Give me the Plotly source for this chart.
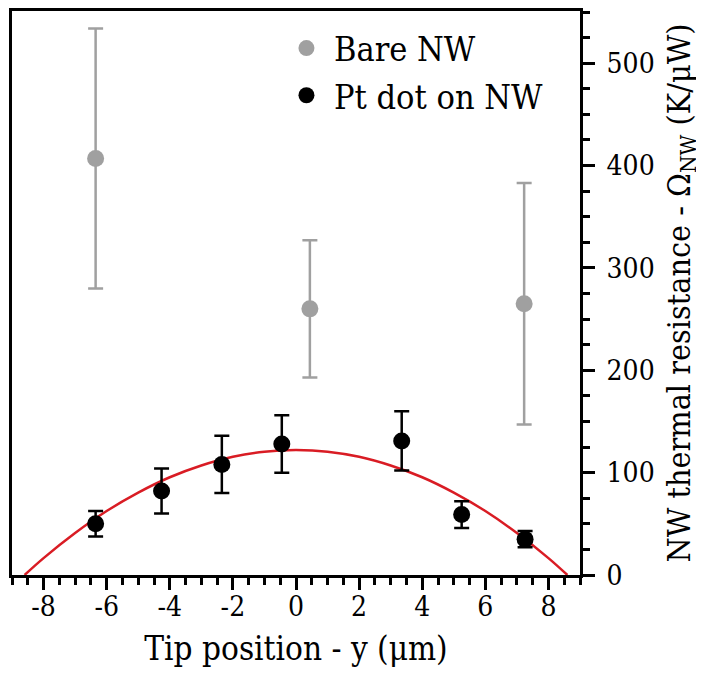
import plotly.graph_objects as go

# Bare NW
bare_x = [-6.35, 0.44, 7.23]
bare_y = [407, 260, 265]
bare_err = [127, 67, 118]

# Pt dot on NW
pt_x = [-6.35, -4.26, -2.35, -0.45, 3.35, 5.25, 7.26]
pt_y = [50, 82, 108, 128, 131, 59, 35]
pt_err = [12.5, 22, 28, 28, 29, 13, 8]

# Fit curve
fit_x = [-8.6, -8, -7, -6, -5, -4, -3, -2, -1, 0, 1, 2, 3, 4, 5, 6, 7, 8, 8.6]
fit_y = [0, 16.5, 41, 62.5, 80.5, 95.5, 107, 115.5, 120.5, 122, 120.5, 115.5, 107, 95.5, 80.5, 62.5, 41, 16.5, 0]

x_tickvals = [-8, -6, -4, -2, 0, 2, 4, 6, 8]
y_tickvals = [0, 100, 200, 300, 400, 500]

FONT = "DejaVu Serif Condensed, DejaVu Serif"
GRAY = "#a0a0a0"

fig = go.Figure()
fig.add_trace(go.Scatter(
    x=bare_x, y=bare_y, mode="markers", name="Bare NW",
    marker=dict(color=GRAY, size=17),
    error_y=dict(type="data", array=bare_err, color=GRAY, thickness=2.5, width=7.5),
))
fig.add_trace(go.Scatter(
    x=fit_x, y=fit_y, mode="lines", line=dict(color="#d91c24", width=2.5, shape="spline"),
    showlegend=False, hoverinfo="skip",
))
fig.add_trace(go.Scatter(
    x=pt_x, y=pt_y, mode="markers", name="Pt dot on NW",
    marker=dict(color="black", size=17),
    error_y=dict(type="data", array=pt_err, color="black", thickness=2.5, width=7.5),
))

fig.update_layout(
    template="none",
    width=704, height=679,
    margin=dict(l=4, r=132, t=3, b=112, autoexpand=False),
    paper_bgcolor="white", plot_bgcolor="white",
    font=dict(family=FONT, color="black", size=28),
    showlegend=True,
    legend=dict(x=0.47, y=0.985, xanchor="left", yanchor="top",
                font=dict(family=FONT, size=34), bgcolor="rgba(0,0,0,0)",
                tracegroupgap=0, itemsizing="trace", itemwidth=45),
    xaxis=dict(
        range=[-9, 9], tickvals=x_tickvals, ticktext=[str(v) for v in x_tickvals],
        showgrid=False, zeroline=False, automargin=False,
        showline=True, linecolor="black", linewidth=3, mirror=True,
        ticks="outside", ticklen=12, tickwidth=2.5, tickcolor="black",
        minor=dict(dtick=0.5, tick0=0, ticks="outside", ticklen=7, tickwidth=2.5, tickcolor="black"),
        tickfont=dict(family=FONT, size=28), ticklabelstandoff=-8,
        title=dict(text="Tip position - y (μm)", font=dict(family=FONT, size=33), standoff=16),
    ),
    yaxis=dict(
        side="right", range=[0, 551], tickvals=y_tickvals,
        showgrid=False, zeroline=False, automargin=False,
        showline=True, linecolor="black", linewidth=3, mirror=True,
        ticks="outside", ticklen=12, tickwidth=2.5, tickcolor="black",
        minor=dict(dtick=25, tick0=0, ticks="outside", ticklen=7, tickwidth=2.5, tickcolor="black"),
        tickfont=dict(family=FONT, size=28), ticklabelstandoff=6,
        title=dict(text="NW thermal resistance - Ω<sub>NW</sub> (K/μW)", font=dict(family=FONT, size=32), standoff=14),
    ),
)

fig.write_html("out.html")
